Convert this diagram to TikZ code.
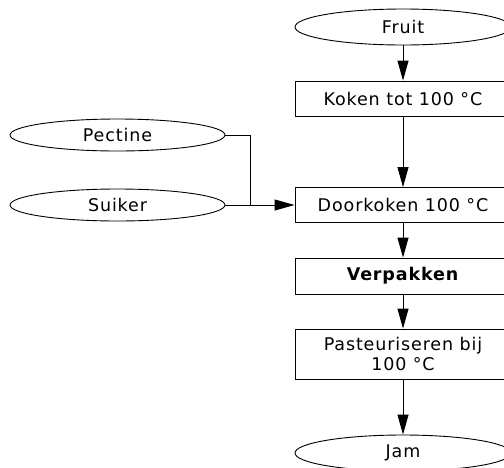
\documentclass[tikz,border=0pt]{standalone}
\usepackage{fontspec}
\setmainfont{DejaVu Sans}
\usetikzlibrary{shapes.geometric,arrows.meta}
\tikzset{
  term/.style={draw,ellipse,minimum width=216pt,minimum height=36pt,inner sep=0pt,line width=0.9pt},
  procbox/.style={draw,rectangle,minimum width=216pt,minimum height=35pt,inner sep=0pt,align=center,line width=0.9pt},
  flow/.style={line width=0.9pt,-{Triangle[length=20pt,width=11pt]}},
  plain/.style={line width=0.9pt},
  every node/.style={font=\fontsize{17.5}{20}\selectfont\addfontfeatures{LetterSpace=5}}
}
\begin{document}
\begin{tikzpicture}[x=1pt,y=-1pt]
\useasboundingbox (0,0) rectangle (504,467);
\clip (0,0) rectangle (504,467);
\node[term] (fruit) at (403,27) {Fruit};
\node[procbox] (koken) at (403,98.5) {Koken tot 100 °C};
\node[term,minimum width=215pt,minimum height=32pt] (pectine) at (117.5,135) {Pectine};
\node[term,minimum width=215pt,minimum height=32pt] (suiker) at (117.5,205) {Suiker};
\node[procbox] (door) at (403,205) {Doorkoken 100 °C};
\node[procbox,minimum height=36pt] (verp) at (403,276) {\textbf{Verpakken}};
\node[procbox,minimum height=50pt] (past) at (403,354) {Pasteuriseren bij\\100 °C};
\node[term] (jam) at (403,453) {Jam};
\coordinate (j) at (250,205);
\draw[flow] (fruit) -- (koken);
\draw[flow] (koken) -- (door);
\draw[flow] (door) -- (verp);
\draw[flow] (verp) -- (past);
\draw[flow] (past) -- (jam);
\draw[plain] (pectine.east) -| (j);
\draw[flow] (suiker.east) -- (door.west);
\end{tikzpicture}
\end{document}
